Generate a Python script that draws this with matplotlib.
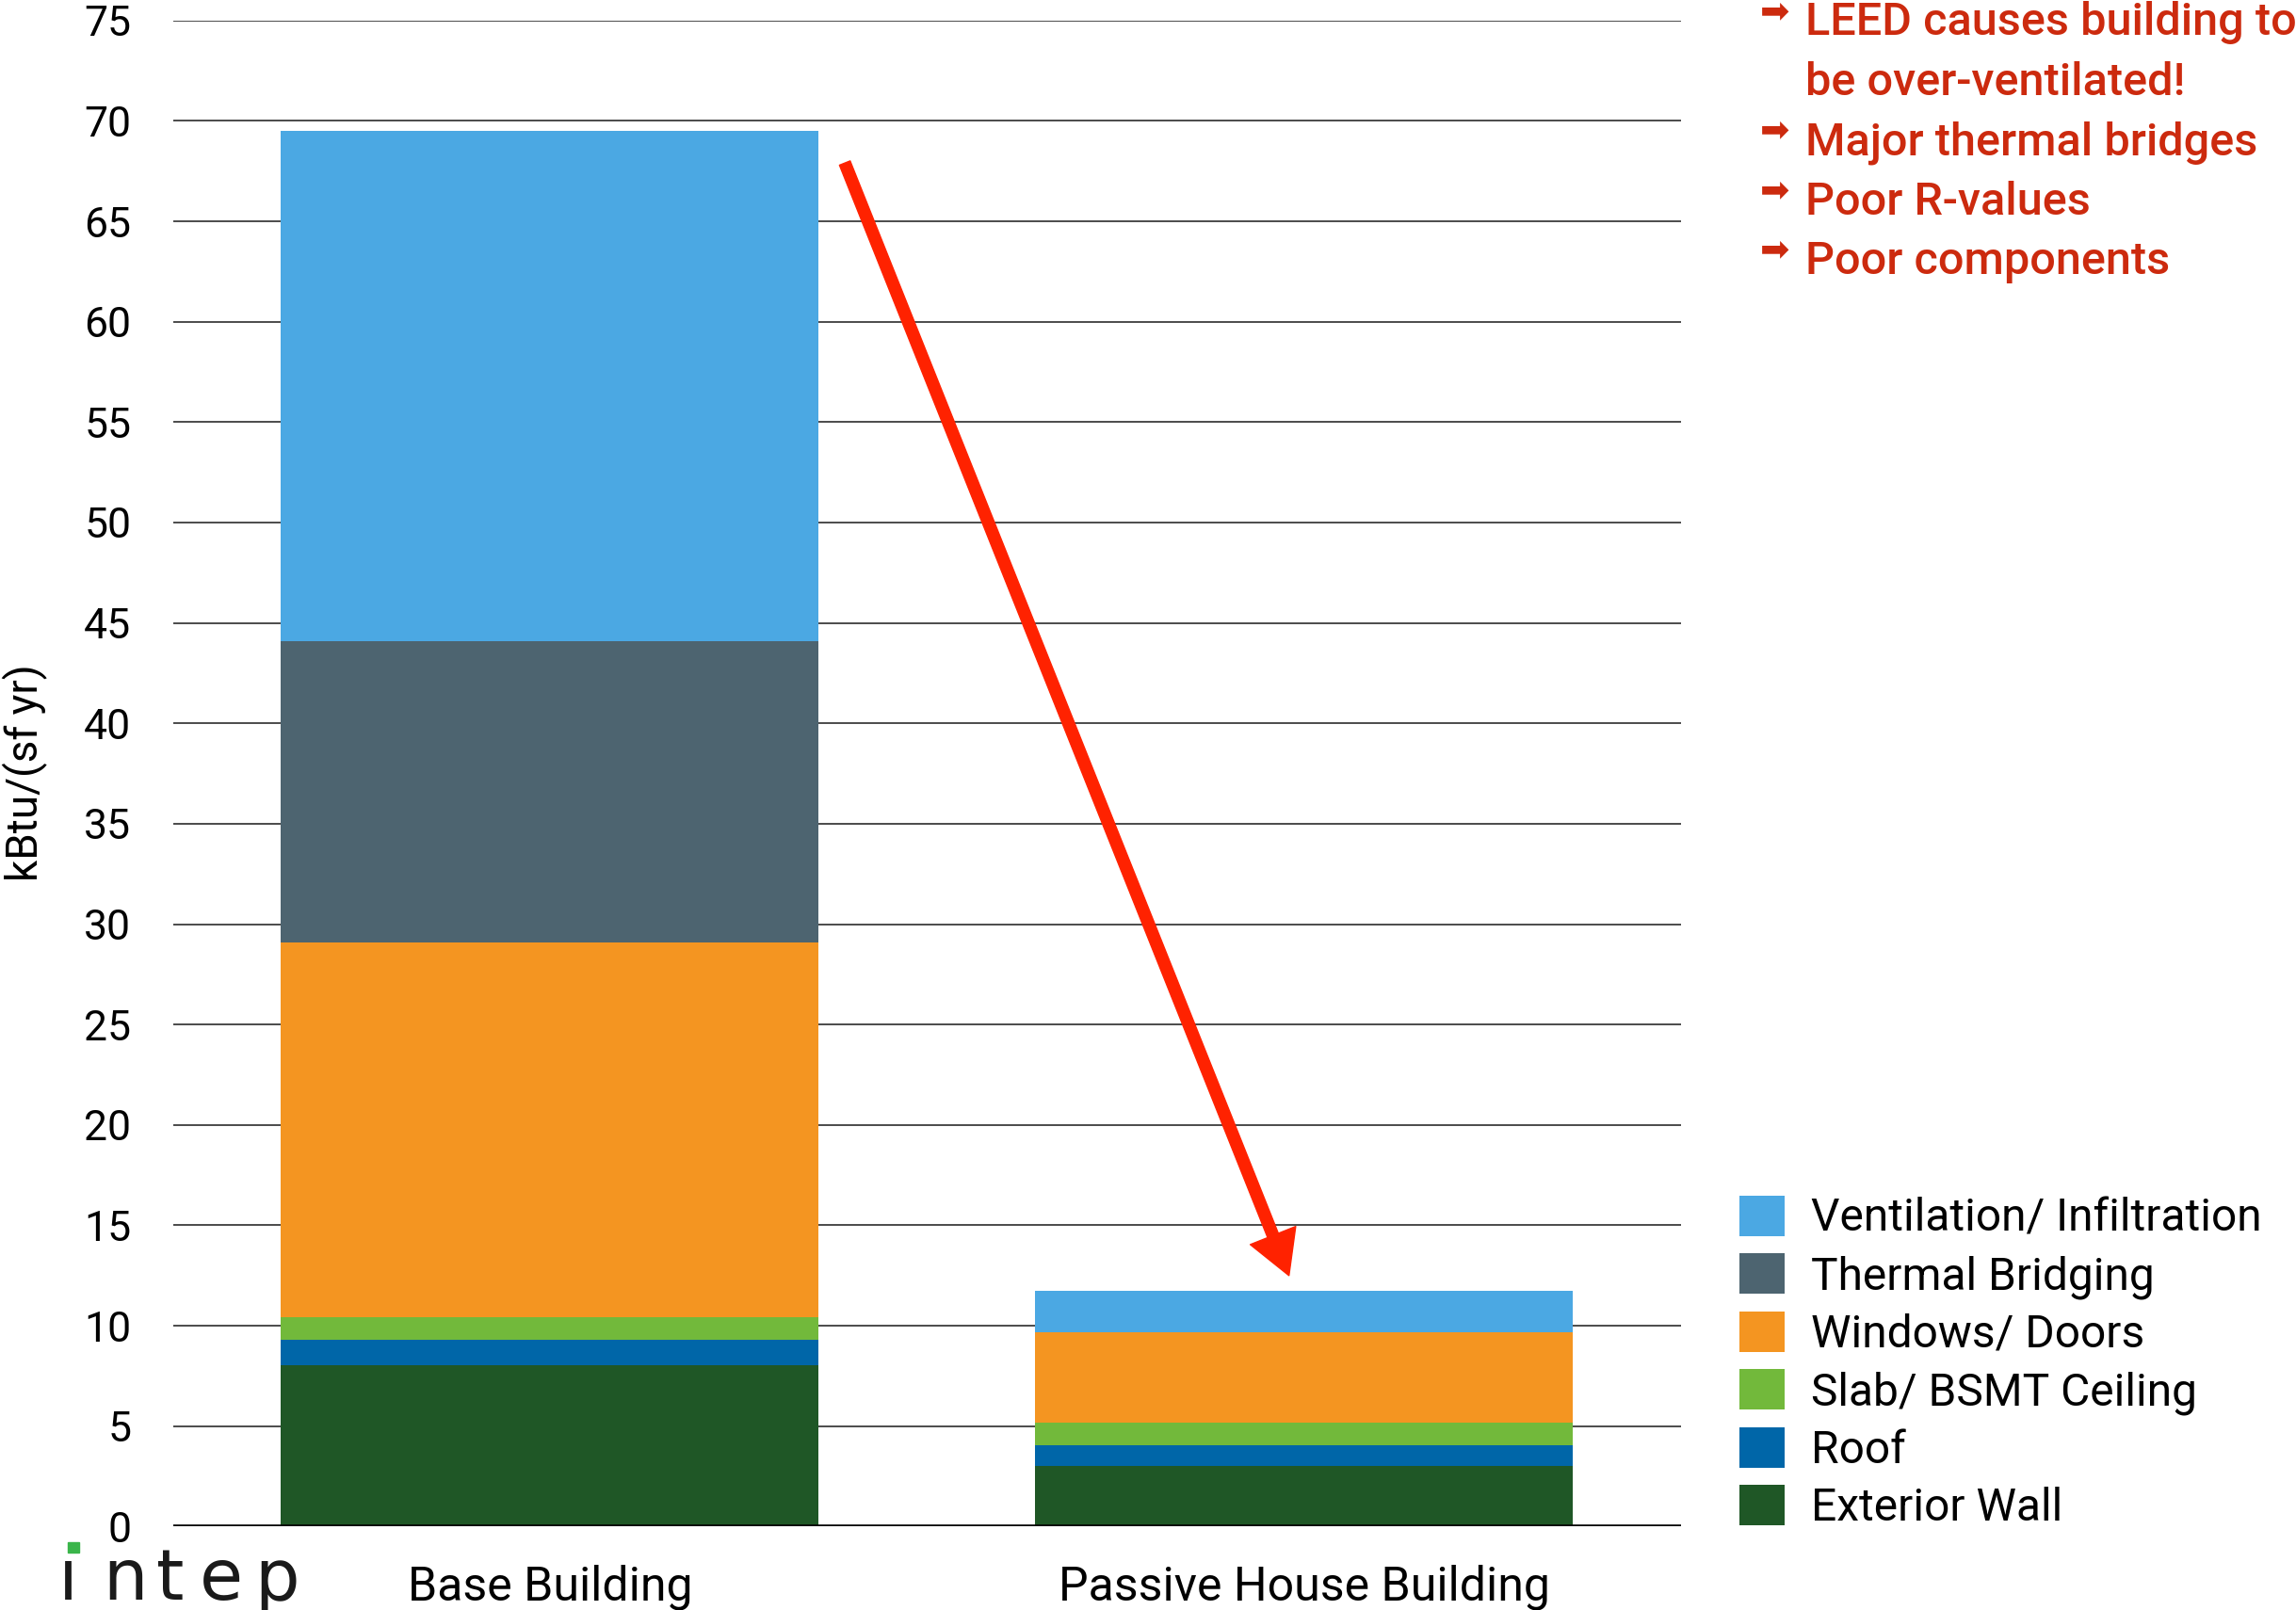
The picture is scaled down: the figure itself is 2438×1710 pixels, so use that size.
import matplotlib.pyplot as plt
import matplotlib.patches as mpatches
import numpy as np

plt.rcParams['font.family'] = ['Roboto', 'DejaVu Sans']

# Heating demand by component, kBtu/(sf yr)
buildings = ['Base Building', 'Passive House Building']
components = ['Exterior Wall', 'Roof', 'Slab/ BSMT Ceiling', 'Windows/ Doors',
              'Thermal Bridging', 'Ventilation/ Infiltration']
exterior_wall = [8.05, 3.0]
roof = [1.27, 1.04]
slab = [1.12, 1.13]
windows_doors = [18.65, 4.52]
thermal_bridging = [15.0, 0.0]
ventilation = [25.4, 2.03]
colors = ['#1f5726', '#0066a8', '#72b93b', '#f49521', '#4d6470', '#4ba8e3']

notes = ['LEED causes building to', 'be over-ventilated!', 'Major thermal bridges',
         'Poor R-values', 'Poor components']
note_bullets = [True, False, True, True, True]
red = '#cc2a0e'

fig = plt.figure(figsize=(24.38, 17.10), dpi=100)
ax = fig.add_axes([0.0753, 0.0518, 0.6569, 0.9355])

x = np.arange(len(buildings))
series = [exterior_wall, roof, slab, windows_doors, thermal_bridging, ventilation]
bottom = np.zeros(len(buildings))
handles = []
for vals, name, c in zip(series, components, colors):
    b = ax.bar(x, vals, width=0.713, bottom=bottom, color=c, label=name,
               linewidth=0, zorder=3)
    handles.append(b)
    bottom += np.array(vals)

ax.set_xlim(-0.5, 1.5)
ax.set_ylim(0, 75)
ax.set_yticks(np.arange(0, 76, 5))
ax.yaxis.grid(True, color='#1a1a1a', linewidth=1.1)
ax.set_axisbelow(True)
ax.axhline(0, color='black', linewidth=2.6, zorder=4)
for s in ax.spines.values():
    s.set_visible(False)
ax.tick_params(axis='y', length=0, pad=32, labelsize=32)
ax.set_xticks(x)
ax.set_xticklabels(buildings)
ax.tick_params(axis='x', length=0, pad=29, labelsize=36)

fig.text(0.0108, 0.52, 'kBtu/(sf yr)', rotation=90, ha='center', va='center',
         fontsize=33)

# arrow from the base bar down to the passive house bar
arrow_from = (0.391, 67.9)
arrow_to = (0.980, 12.5)
ax.annotate('', xy=arrow_to, xytext=arrow_from,
            arrowprops=dict(arrowstyle='simple,head_length=1.5,head_width=1.7,tail_width=0.4',
                            color='#ff2200', mutation_scale=22, shrinkA=0, shrinkB=0),
            zorder=6)

# red notes, top right
for i, (line, bullet) in enumerate(zip(notes, note_bullets)):
    yb = 1 - (24 + 40.8 * i) / 1100
    fig.text(0.7864, yb, line, color=red, fontsize=35, fontweight='medium',
             va='baseline', ha='left')
    if bullet:
        fig.text(0.7665, yb + 0.0085, '\u27a1', color=red, fontsize=27,
                 family='DejaVu Sans', va='baseline', ha='left')

fig.legend(handles[::-1], components[::-1], loc='upper left',
           bbox_to_anchor=(0.7577, 1 - 817 / 1100), frameon=False,
           fontsize=34.5, handlelength=1.0, handleheight=1.0,
           handletextpad=0.58, labelspacing=0.28, borderpad=0, borderaxespad=0)

# intep logo
logo_x = [62, 109, 166, 212, 270]
for ch, lx in zip('ıntep', logo_x):
    fig.text(lx / 2438, 0.0065, ch, fontsize=54, color='#1a1a1a',
             ha='left', va='baseline', family='DejaVu Sans')
fig.patches.append(mpatches.Rectangle((72 / 2438, 1 - 1649 / 1710), 12 / 2438, 11 / 1710,
                                      transform=fig.transFigure, color='#3ab54a'))

fig.savefig('out.png', dpi=100)
